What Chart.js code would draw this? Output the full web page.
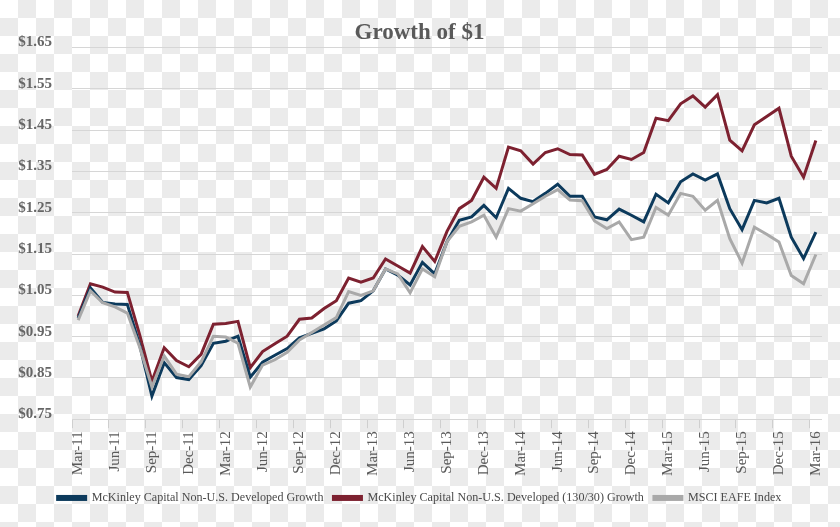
<!DOCTYPE html>
<html>
<head>
<meta charset="utf-8">
<title>Growth of $1</title>
<script src="https://cdn.jsdelivr.net/npm/chart.js@4.4.1/dist/chart.umd.min.js"></script>
<style>
  html, body {
    margin: 0;
    padding: 0;
  }
  body {
    width: 840px;
    height: 527px;
    /* checkered backdrop like the source image */
    background-color: #fff;
    background-image: conic-gradient(#ebebeb 25%, #fff 0 50%, #ebebeb 0 75%, #fff 0);
    background-size: 36px 36px;
  }
  .chart-wrapper {
    position: absolute;
    left: 0;
    top: 0;
    width: 840px;
    height: 527px;
  }
</style>
</head>
<body>
<div class="chart-wrapper"><canvas id="growthChart"></canvas></div>
<script>
// --- Data ---
const months = [
    'Mar-11', 'Apr-11', 'May-11', 'Jun-11', 'Jul-11', 'Aug-11', 'Sep-11', 'Oct-11', 'Nov-11', 'Dec-11',
    'Jan-12', 'Feb-12', 'Mar-12', 'Apr-12', 'May-12', 'Jun-12', 'Jul-12', 'Aug-12', 'Sep-12', 'Oct-12',
    'Nov-12', 'Dec-12', 'Jan-13', 'Feb-13', 'Mar-13', 'Apr-13', 'May-13', 'Jun-13', 'Jul-13', 'Aug-13',
    'Sep-13', 'Oct-13', 'Nov-13', 'Dec-13', 'Jan-14', 'Feb-14', 'Mar-14', 'Apr-14', 'May-14', 'Jun-14',
    'Jul-14', 'Aug-14', 'Sep-14', 'Oct-14', 'Nov-14', 'Dec-14', 'Jan-15', 'Feb-15', 'Mar-15', 'Apr-15',
    'May-15', 'Jun-15', 'Jul-15', 'Aug-15', 'Sep-15', 'Oct-15', 'Nov-15', 'Dec-15', 'Jan-16', 'Feb-16',
    'Mar-16'
];

const mckinleyGrowth = [
    0.995, 1.068, 1.033, 1.029, 1.028, 0.930, 0.806, 0.887, 0.851, 0.846,
    0.880, 0.934, 0.939, 0.951, 0.852, 0.888, 0.905, 0.921, 0.947, 0.958,
    0.969, 0.988, 1.031, 1.037, 1.061, 1.114, 1.099, 1.075, 1.130, 1.102,
    1.180, 1.232, 1.240, 1.268, 1.238, 1.309, 1.285, 1.277, 1.297, 1.319,
    1.290, 1.290, 1.240, 1.233, 1.259, 1.244, 1.228, 1.295, 1.274, 1.325,
    1.344, 1.329, 1.344, 1.260, 1.209, 1.280, 1.274, 1.285, 1.191, 1.139,
    1.203
];

const mckinley13030 = [
    1.000, 1.078, 1.070, 1.058, 1.057, 0.955, 0.842, 0.923, 0.892, 0.877,
    0.907, 0.980, 0.982, 0.987, 0.875, 0.914, 0.933, 0.951, 0.992, 0.995,
    1.018, 1.037, 1.092, 1.082, 1.092, 1.138, 1.121, 1.104, 1.168, 1.132,
    1.205, 1.260, 1.280, 1.336, 1.309, 1.409, 1.400, 1.368, 1.396, 1.405,
    1.391, 1.390, 1.343, 1.355, 1.387, 1.379, 1.396, 1.479, 1.473, 1.514,
    1.533, 1.506, 1.536, 1.426, 1.400, 1.463, 1.483, 1.503, 1.387, 1.336,
    1.425
];

const msciEafe = [
    0.990, 1.061, 1.032, 1.022, 1.007, 0.925, 0.828, 0.903, 0.859, 0.853,
    0.889, 0.951, 0.949, 0.934, 0.828, 0.881, 0.894, 0.912, 0.942, 0.960,
    0.978, 0.996, 1.059, 1.050, 1.061, 1.114, 1.102, 1.056, 1.114, 1.095,
    1.180, 1.217, 1.228, 1.244, 1.191, 1.260, 1.254, 1.272, 1.290, 1.306,
    1.281, 1.279, 1.230, 1.212, 1.228, 1.185, 1.191, 1.263, 1.244, 1.297,
    1.290, 1.256, 1.280, 1.187, 1.128, 1.215, 1.198, 1.179, 1.098, 1.078,
    1.149
];

const yTicks = [0.75, 0.85, 0.95, 1.05, 1.15, 1.25, 1.35, 1.45, 1.55, 1.65];

// --- Colours ---
const BLUE = '#0c3a5c';
const RED = '#7d2130';
const GRAY = '#a9a9a9';
const TEXT = '#5a5a5a';
const SERIF = '"Liberation Serif", "DejaVu Serif", serif';

function renderGrowthChart() {
    const ctx = document.getElementById('growthChart');
    if (!ctx) {
        console.error('Canvas "growthChart" not found.');
        return;
    }

    new Chart(ctx, {
        type: 'line',
        data: {
            labels: months,
            datasets: [
                {
                    label: 'McKinley Capital Non-U.S. Developed Growth',
                    data: mckinleyGrowth,
                    borderColor: BLUE,
                    backgroundColor: BLUE,
                    order: 2
                },
                {
                    label: 'McKinley Capital Non-U.S. Developed (130/30) Growth',
                    data: mckinley13030,
                    borderColor: RED,
                    backgroundColor: RED,
                    order: 3
                },
                {
                    label: 'MSCI EAFE Index',
                    data: msciEafe,
                    borderColor: GRAY,
                    backgroundColor: GRAY,
                    order: 1 // drawn on top, like the source
                }
            ]
        },
        options: {
            responsive: true,
            maintainAspectRatio: false,
            animation: false,
            layout: {
                padding: { left: 17, right: 18, top: 0, bottom: 13 }
            },
            elements: {
                line: { borderWidth: 3, tension: 0, fill: false },
                point: { radius: 0, hoverRadius: 0 }
            },
            scales: {
                x: {
                    type: 'category',
                    offset: true,
                    border: { display: false },
                    grid: {
                        offset: true,
                        drawOnChartArea: false,
                        drawTicks: true,
                        tickLength: 9,
                        color: c => (c.index % 3 === 0 ? '#cfcfcf' : 'rgba(0,0,0,0)')
                    },
                    ticks: {
                        autoSkip: false,
                        minRotation: 90,
                        maxRotation: 90,
                        padding: 3,
                        color: TEXT,
                        font: { family: SERIF, size: 15 },
                        callback: function(value, index) {
                            return index % 3 === 0 ? months[index] : '';
                        }
                    },
                    afterFit: axis => {
                        axis.height += 3;
                    }
                },
                y: {
                    min: 0.75,
                    max: 1.65,
                    border: { display: false },
                    afterBuildTicks: axis => {
                        axis.ticks = yTicks.map(v => ({ value: v }));
                    },
                    afterFit: axis => {
                        axis.width = 55;
                    },
                    grid: {
                        color: '#d6d6d6',
                        lineWidth: 1,
                        drawTicks: false
                    },
                    ticks: {
                        padding: 20,
                        labelOffset: -5,
                        color: '#666',
                        font: { family: SERIF, size: 15, weight: 'bold' },
                        callback: value => '$' + Number(value).toFixed(2)
                    }
                }
            },
            plugins: {
                title: {
                    display: true,
                    text: 'Growth of $1',
                    color: TEXT,
                    font: { family: SERIF, size: 23, weight: 'bold' },
                    padding: { top: 19, bottom: 1 }
                },
                legend: {
                    position: 'bottom',
                    labels: {
                        boxWidth: 28,
                        boxHeight: 3,
                        padding: 10,
                        color: '#4a4a4a',
                        font: { family: SERIF, size: 12.1 },
                        sort: (a, b) => a.datasetIndex - b.datasetIndex
                    }
                },
                tooltip: { enabled: false }
            }
        }
    });
}

document.addEventListener('DOMContentLoaded', () => {
    renderGrowthChart();
});
</script>
</body>
</html>
